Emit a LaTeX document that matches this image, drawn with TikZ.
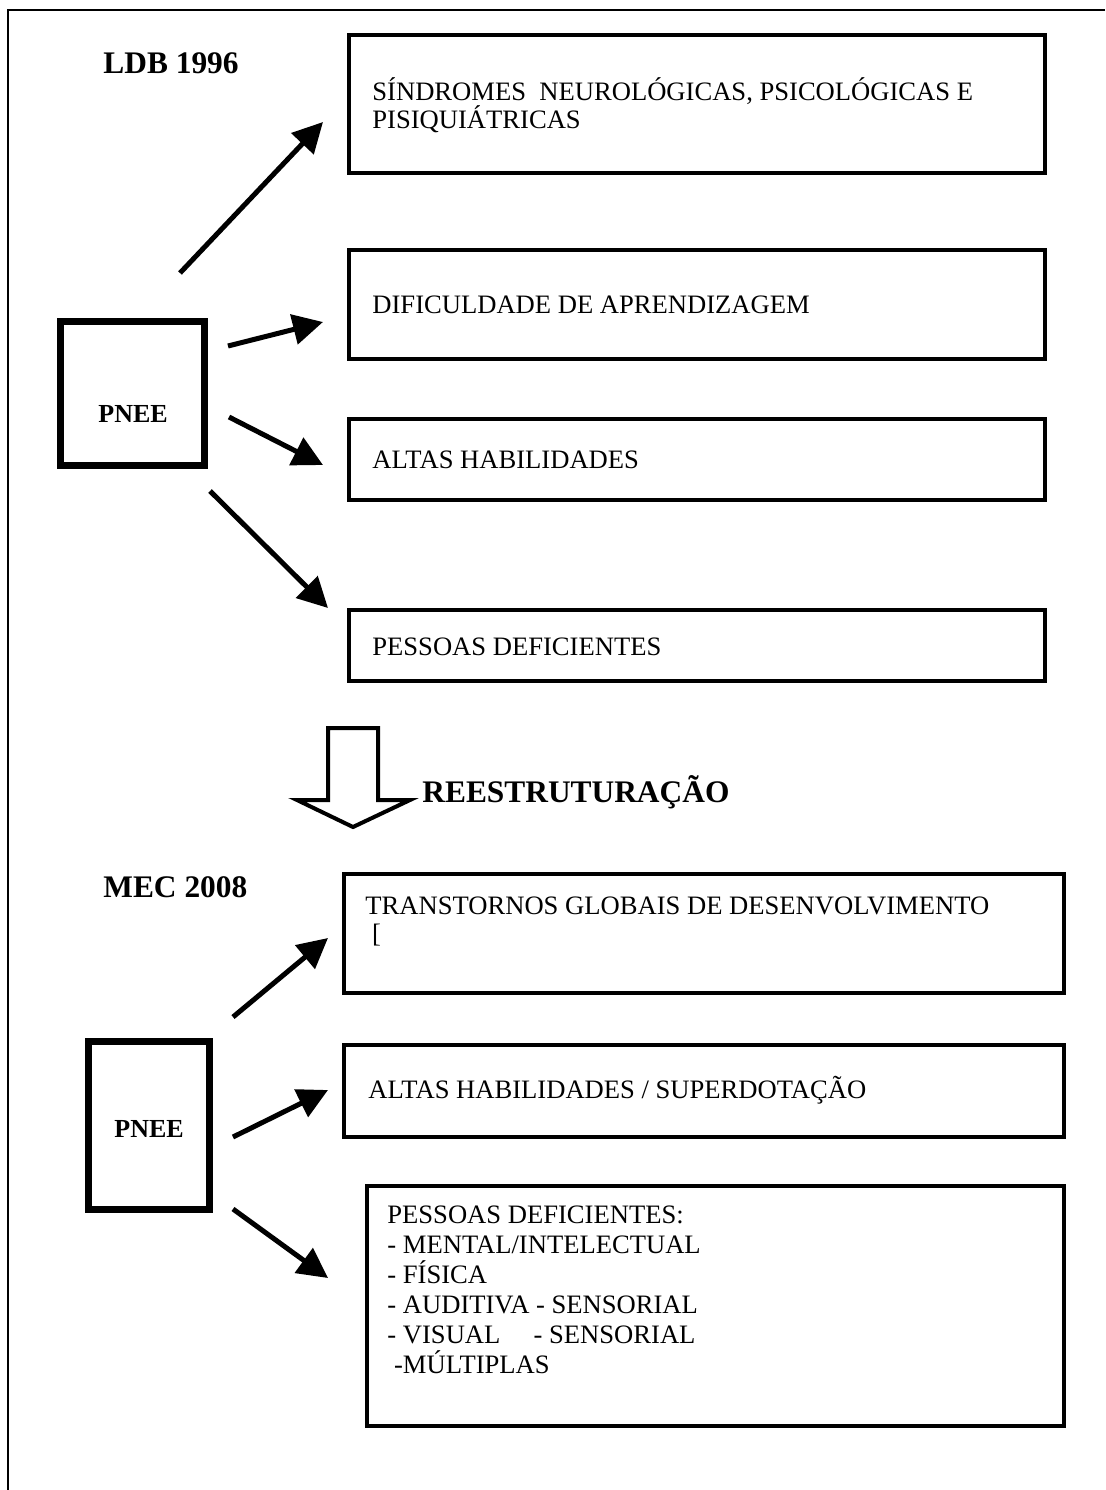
\documentclass[tikz,border=0pt]{standalone}
\usepackage{fontspec}
\setmainfont{Liberation Serif}
\usetikzlibrary{arrows.meta,fit}

\begin{document}
\begin{tikzpicture}[x=0.5pt, y=-0.5pt,
	bx/.style={draw, line width=2.2pt, inner sep=0},
	pn/.style={draw, line width=3.5pt, inner sep=0},
	tx/.style={font=\fontsize{13.3}{14}\selectfont, anchor=base west, inner sep=0, align=left},
	hd/.style={font=\fontsize{15.7}{18}\selectfont\bfseries, anchor=base west, inner sep=0},
	ar/.style={->, line width=2.5pt},
	>={Triangle[length=15pt, width=15pt]}]
	\useasboundingbox (0,0) rectangle (1105,1490);
	\draw[line width=1pt] (1105,10) -- (8,10) -- (8,1490);

	% LDB 1996
	\node[hd] (ldb) at (103,73) {LDB 1996};
	\node[pn, fit={(60.5,321.5) (204.5,465.5)}] (pnee1) {};
	\node[hd, font=\fontsize{13}{15}\selectfont\bfseries] (pnee1txt) at (98,422) {PNEE};

	\node[bx, fit={(349,35) (1045,173)}] (b1) {};
	\node[bx, fit={(349,250) (1045,359)}] (b2) {};
	\node[bx, fit={(349,419) (1045,500)}] (b3) {};
	\node[bx, fit={(349,610) (1045,681)}] (b4) {};
	% multi-line: base = last line
	\node[tx] (b1txt) at (372,128) {SÍNDROMES\ \ NEUROLÓGICAS, PSICOLÓGICAS E\\PISIQUIÁTRICAS};
	\node[tx] (b2txt) at (372,313) {DIFICULDADE DE APRENDIZAGEM};
	\node[tx] (b3txt) at (372,468) {ALTAS HABILIDADES};
	\node[tx] (b4txt) at (372,655) {PESSOAS DEFICIENTES};

	\coordinate (a1s) at (180,273); \coordinate (a1e) at (323,122);
	\coordinate (a2s) at (228,346); \coordinate (a2e) at (323,322);
	\coordinate (a3s) at (229,417); \coordinate (a3e) at (323,465);
	\coordinate (a4s) at (210,491); \coordinate (a4e) at (328,608);
	\draw[ar] (a1s) -- (a1e);
	\draw[ar] (a2s) -- (a2e);
	\draw[ar] (a3s) -- (a3e);
	\draw[ar] (a4s) -- (a4e);

	% reestruturacao
	\draw[line width=2pt, line join=miter] (328,728) -- (378,728) -- (378,800) -- (410,800) -- (353,827) -- (297,800) -- (328,800) -- cycle;
	\node[hd] (reest) at (422,802) {REESTRUTURAÇÃO};

	% MEC 2008
	\node[hd] (mec) at (103,897) {MEC 2008};
	\node[pn, fit={(88.5,1041.5) (209.5,1209.5)}] (pnee2) {};
	\node[hd, font=\fontsize{13}{15}\selectfont\bfseries] (pnee2txt) at (114,1137) {PNEE};

	\node[bx, fit={(344,874) (1064,993)}] (c1) {};
	\node[bx, fit={(344,1045) (1064,1137)}] (c2) {};
	\node[bx, fit={(367,1186) (1064,1426)}] (c3) {};
	\node[tx] (c1txt) at (365,942) {TRANSTORNOS GLOBAIS DE DESENVOLVIMENTO\\\ [};
	\node[tx] (c2txt) at (368,1098) {ALTAS HABILIDADES / SUPERDOTAÇÃO};
	\node[tx, font=\fontsize{13.3}{15}\selectfont] (c3txt) at (387,1373) {PESSOAS DEFICIENTES:\\- MENTAL/INTELECTUAL\\- FÍSICA\\- AUDITIVA - SENSORIAL\\- VISUAL\ \ \ \ \ - SENSORIAL\\\ -MÚLTIPLAS};

	\coordinate (d1s) at (233,1017); \coordinate (d1e) at (328,938);
	\coordinate (d2s) at (233,1137); \coordinate (d2e) at (328,1090);
	\coordinate (d3s) at (233,1209); \coordinate (d3e) at (328,1278);
	\draw[ar] (d1s) -- (d1e);
	\draw[ar] (d2s) -- (d2e);
	\draw[ar] (d3s) -- (d3e);


\end{tikzpicture}
\end{document}
